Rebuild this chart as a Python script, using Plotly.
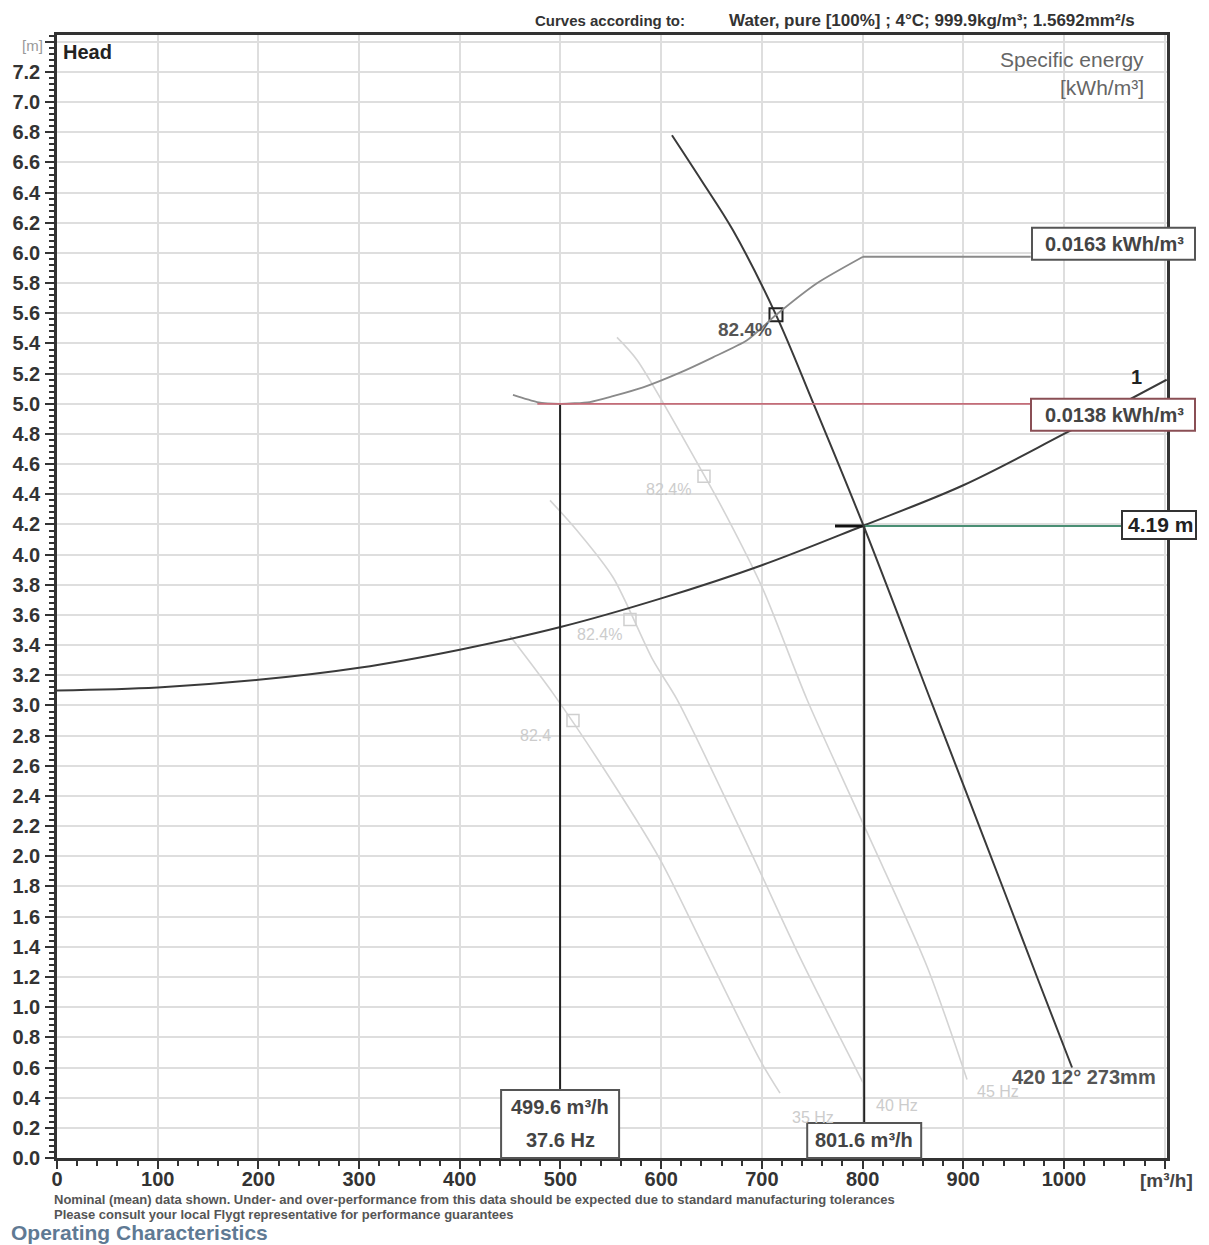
import plotly.graph_objects as go

# ---------------- data ----------------
# main pump curve (420 12° 273mm)
pump_q = [610.7, 640.0, 671.3, 714.0, 750.7, 800.4, 869.0, 899.7, 940.0, 973.2, 1008.0]
pump_h = [6.78, 6.48, 6.15, 5.59, 5.01, 4.20, 3.01, 2.48, 1.78, 1.20, 0.60]

# reduced-speed pump curves (faint)
l45_q = [556.1, 576.0, 641.5, 665.3, 701.1, 744.8, 804.4, 864.0, 903.7]
l45_h = [5.44, 5.29, 4.54, 4.25, 3.77, 3.04, 2.16, 1.27, 0.52]
l40_q = [489.6, 516.4, 552.1, 591.9, 615.7, 688.2, 737.8, 800.4]
l40_h = [4.36, 4.16, 3.85, 3.30, 3.04, 2.04, 1.33, 0.50]
l35_q = [449.9, 492.6, 539.2, 598.8, 638.5, 698.1, 718.0]
l35_h = [3.46, 3.08, 2.62, 1.98, 1.45, 0.65, 0.43]

# system curve "1"
sys_q = [0, 100, 200, 300, 400, 500, 600, 700, 800, 900, 1000, 1102]
sys_h = [3.10, 3.12, 3.17, 3.25, 3.37, 3.52, 3.71, 3.93, 4.19, 4.46, 4.80, 5.16]

# specific energy curve [kWh/m³] (last point: flat run to the label box)
se_q = [452.8, 476.7, 499.5, 529.0, 552.0, 582.0, 618.7, 651.4, 685.2, 714.0, 754.7, 800.4, 967.0]
se_e = [0.01395, 0.01383, 0.01380, 0.01383, 0.01393, 0.01408, 0.01433, 0.01459,
        0.01488, 0.01531, 0.01585, 0.01630, 0.01630]

# best-efficiency points
bep_q = [714.0, 642.5, 569.0, 512.4]
bep_h = [5.59, 4.52, 3.57, 2.90]
bep_lbl = ["82.4%", "82.4%", "82.4%", "82.4"]
bep_lbl_q = [683.0, 606.8, 539.0, 474.7]
bep_lbl_h = [5.49, 4.43, 3.47, 2.80]

# speed labels
hz_lbl = ["35 Hz", "40 Hz", "45 Hz"]
hz_q = [750.7, 834.0, 934.5]
hz_h = [0.27, 0.35, 0.44]

# duty points
op1_q, op1_e, op1_hz = 499.6, 0.0138, 37.6
op2_q, op2_h, op2_e = 801.6, 4.19, 0.0163
red_q = [477.0, 967.0]
green_q = [801.6, 1057.6]
tick_x = [0, 100, 200, 300, 400, 500, 600, 700, 800, 900, 1000, 1100]
tick_x_txt = ["0", "100", "200", "300", "400", "500", "600", "700", "800", "900", "1000", ""]
tick_y = [round(0.2 * i, 1) for i in range(38)]   # 0.0 ... 7.4
tick_y_txt = [f"{v:.1f}" for v in tick_y[:-1]] + [""]

# ---------------- layout geometry (page pixels) ----------------
OFF = 8                      # default page margin around the plot div
W, H = 1209 - OFF, 1245 - OFF
ML, MT = 57 - OFF, 35 - OFF
MR = W - (1167 - OFF)
MB = H - (1158 - OFF)
X_MAX = 1102.3
Y_MAX = 7.445
PW, PH = W - ML - MR, H - MT - MB

# secondary (specific energy) axis calibrated on the two labelled levels
E_LO_H, E_HI_H = 5.0, 5.975
k_e = (op2_e - op1_e) / (E_HI_H - E_LO_H)
E0 = op1_e - E_LO_H * k_e
E1 = op1_e + (Y_MAX - E_LO_H) * k_e


def px(xpage):
    return (xpage - OFF - ML) / PW


def py(ypage):
    return (OFF + MT + PH - ypage) / PH


def xq(q):
    return q / X_MAX


def yh(h):
    return h / Y_MAX


def ye(e):
    return (e - E0) / (E1 - E0)


FONT = "Liberation Sans, Arial, sans-serif"
DARK = "#3a3a3a"
FAINT = "#d4d4d4"

fig = go.Figure()

# faint reduced-speed curves
for qq, hh in [(l45_q, l45_h), (l40_q, l40_h), (l35_q, l35_h)]:
    fig.add_trace(go.Scatter(x=qq, y=hh, mode="lines",
                             line=dict(color=FAINT, width=1.6, shape="spline", smoothing=0.8),
                             hoverinfo="skip", showlegend=False))

# system curve
fig.add_trace(go.Scatter(x=sys_q, y=sys_h, mode="lines", line=dict(color=DARK, width=2, shape="spline"),
                         showlegend=False))

# specific energy curve (secondary axis): curved part + flat run
fig.add_trace(go.Scatter(x=se_q[:-1], y=se_e[:-1], yaxis="y2", mode="lines",
                         line=dict(color="#8a8a8a", width=1.8, shape="spline", smoothing=0.6), showlegend=False))
fig.add_trace(go.Scatter(x=se_q[-2:], y=se_e[-2:], yaxis="y2", mode="lines",
                         line=dict(color="#8a8a8a", width=1.8), showlegend=False))

# red specific-energy line at duty point 1
fig.add_trace(go.Scatter(x=red_q, y=[op1_e, op1_e], yaxis="y2", mode="lines",
                         line=dict(color="#c46c78", width=1.8), showlegend=False))

# green head line
fig.add_trace(go.Scatter(x=green_q, y=[op2_h, op2_h], mode="lines",
                         line=dict(color="#4a8f74", width=1.8), showlegend=False))
# short black tick at duty point
fig.add_trace(go.Scatter(x=[op2_q - 29, op2_q], y=[op2_h, op2_h], mode="lines",
                         line=dict(color="#111", width=3), showlegend=False))

# vertical duty lines
fig.add_trace(go.Scatter(x=[op1_q, op1_q], y=[E_LO_H, 0.45], mode="lines",
                         line=dict(color="#222", width=2), showlegend=False))
fig.add_trace(go.Scatter(x=[op2_q, op2_q], y=[op2_h, 0.23], mode="lines",
                         line=dict(color="#222", width=2), showlegend=False))

# main pump curve
fig.add_trace(go.Scatter(x=pump_q, y=pump_h, mode="lines",
                         line=dict(color=DARK, width=2, shape="spline", smoothing=1.0),
                         showlegend=False))

# BEP squares
fig.add_trace(go.Scatter(x=bep_q[:1], y=bep_h[:1], mode="markers",
                         marker=dict(symbol="square-open", size=13, color="#222", line=dict(width=2)),
                         showlegend=False))
fig.add_trace(go.Scatter(x=bep_q[1:], y=bep_h[1:], mode="markers",
                         marker=dict(symbol="square-open", size=12, color="#cfcfcf", line=dict(width=1.5)),
                         showlegend=False))

ann = []


def note(x, y, text, font, xanchor="center", paper=True):
    d = dict(x=x, y=y, text=text, showarrow=False, font=font, xanchor=xanchor, yanchor="middle")
    if paper:
        d.update(xref="paper", yref="paper")
    ann.append(d)


# efficiency labels
note(bep_lbl_q[0], bep_lbl_h[0], bep_lbl[0], dict(family=FONT, size=19, color="#555", weight="bold"), paper=False)
for i in range(1, 4):
    note(bep_lbl_q[i], bep_lbl_h[i], bep_lbl[i], dict(family=FONT, size=16, color="#cccccc"), paper=False)
for t, q, h in zip(hz_lbl, hz_q, hz_h):
    note(q, h, t, dict(family=FONT, size=16, color="#cccccc"), paper=False)

note(1019.9, 0.54, "420 12° 273mm", dict(family=FONT, size=20, color="#555", weight="bold"), paper=False)
note(1072.5, 5.18, "1", dict(family=FONT, size=20, color="#222", weight="bold"), paper=False)

# header
note(px(533), py(20), "Curves according to:", dict(family=FONT, size=15, color="#333", weight="bold"), "left")
note(px(727), py(20), "Water, pure [100%] ; 4°C; 999.9kg/m³; 1.5692mm²/s",
     dict(family=FONT, size=17, color="#333", weight="bold"), "left")
note(px(1146), py(60), "Specific energy", dict(family=FONT, size=21, color="#666"), "right")
note(px(1146), py(88), "[kWh/m³]", dict(family=FONT, size=21, color="#666"), "right")
note(px(32), py(45), "[m]", dict(family=FONT, size=15, color="#999"))
note(px(61), py(52), "Head", dict(family=FONT, size=20, color="#222", weight="bold"), "left")
note(px(1166), py(1180), "[m³/h]", dict(family=FONT, size=19, color="#444", weight="bold"))

# footer
foot = dict(family=FONT, size=13, color="#555", weight="bold")
note(px(52), py(1199),
     "Nominal (mean) data shown. Under- and over-performance from this data should be expected due to standard manufacturing tolerances",
     foot, "left")
note(px(52), py(1214), "Please consult your local Flygt representative for performance guarantees", foot, "left")
note(px(9), py(1232), "Operating Characteristics", dict(family=FONT, size=21, color="#5f7a94", weight="bold"), "left")

# boxes
shapes = []
box_font = dict(family=FONT, size=20, color="#444", weight="bold")


def rect(x0, x1, y0, y1, color):
    shapes.append(dict(type="rect", xref="paper", yref="paper", x0=x0, x1=x1, y0=y0, y1=y1,
                       line=dict(color=color, width=2), fillcolor="white", layer="above"))


# duty point 1 flow box
b1c = xq(op1_q)
rect(b1c - 59 / PW, b1c + 59 / PW, 0, py(1090), "#555")
note(b1c, py(1107), f"{op1_q} m³/h", box_font)
note(b1c, py(1140), f"{op1_hz} Hz", box_font)

# duty point 2 flow box
b2c = xq(op2_q)
rect(b2c - 57 / PW, b2c + 57 / PW, 0, py(1123), "#555")
note(b2c, py(1140), f"{op2_q} m³/h", box_font)

# specific energy boxes
e2y = ye(op2_e)
rect(px(1032), px(1195), e2y - 3 / PH, e2y + 29 / PH, "#555")
note(px(1114), e2y + 13 / PH, f"{op2_e} kWh/m³", box_font)
e1y = ye(op1_e)
rect(px(1031), px(1195), e1y - 27 / PH, e1y + 5 / PH, "#8a4f55")
note(px(1114), e1y - 11 / PH, f"{op1_e} kWh/m³", box_font)

# head box
hy = yh(op2_h)
rect(px(1122), px(1196), hy - 13 / PH, hy + 15 / PH, "#333")
note(px(1160), hy + 1 / PH, f"{op2_h} m", dict(family=FONT, size=21, color="#222", weight="bold"))

tick_font = dict(family=FONT, size=20, color="#333", weight="bold")

fig.update_layout(
    width=W, height=H,
    margin=dict(l=ML, r=MR, t=MT, b=MB, autoexpand=False),
    paper_bgcolor="white", plot_bgcolor="white",
    showlegend=False,
    shapes=shapes,
    annotations=ann,
    xaxis=dict(range=[0, X_MAX], tickvals=tick_x, ticktext=tick_x_txt,
               showgrid=True, gridcolor="#dedede", gridwidth=1.5,
               showline=True, linecolor="#333", linewidth=2.5, mirror=True,
               ticks="outside", ticklen=8, tickwidth=1.5, tickcolor="#333",
               minor=dict(dtick=20, tick0=0, ticks="outside", ticklen=5, tickcolor="#333", showgrid=False),
               tickfont=tick_font, zeroline=False, automargin=False, ticklabelstandoff=-7),
    yaxis=dict(range=[0, Y_MAX], tickvals=tick_y, ticktext=tick_y_txt,
               showgrid=True, gridcolor="#dedede", gridwidth=1.5,
               showline=True, linecolor="#333", linewidth=2.5, mirror=True,
               ticks="outside", ticklen=9, tickwidth=1.5, tickcolor="#333",
               minor=dict(dtick=0.04, tick0=0, ticks="outside", ticklen=5, tickcolor="#333", showgrid=False),
               tickfont=tick_font, zeroline=False, ticklabelstandoff=1, automargin=False),
    yaxis2=dict(range=[E0, E1], overlaying="y", visible=False, showgrid=False),
)

fig.write_html("out.html")
